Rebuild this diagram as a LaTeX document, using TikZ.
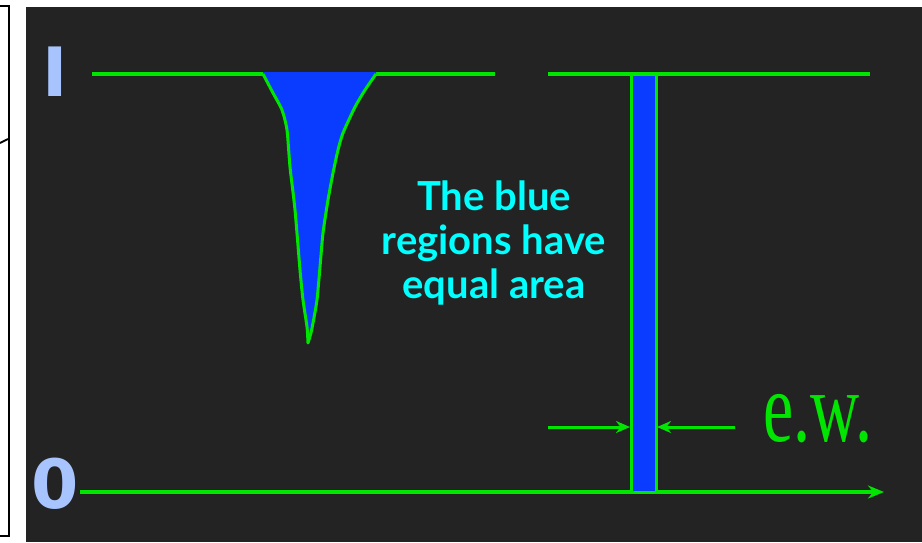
\documentclass[tikz,border=0pt]{standalone}
\usepackage{fontspec}
\setmainfont{Liberation Serif}
\newfontfamily\labelfont{Lato}
\newfontfamily\levelfont{DejaVu Sans}
\usetikzlibrary{arrows.meta}

\definecolor{panelbg}{HTML}{232323}
\definecolor{linegreen}{HTML}{00E600}
\definecolor{fillblue}{HTML}{0A3CFF}
\definecolor{textcyan}{HTML}{00FFFF}
\definecolor{labelblue}{HTML}{A8C4FF}

\begin{document}
\begin{tikzpicture}[
    x=1pt,
    y=-1pt,
    spectrum/.style={linegreen, line width=3.5pt},
    profile/.style={linegreen, line width=3pt, line join=round},
    absorbed/.style={fill=fillblue},
    levellabel/.style={labelblue, font=\levelfont\bfseries\fontsize{68}{68}\selectfont, inner sep=0pt},
    note/.style={textcyan, font=\labelfont\bfseries\fontsize{40}{44}\selectfont, align=center},
    ewlabel/.style={linegreen, font=\fontsize{100}{100}\selectfont, inner sep=0pt}
]

% =========================================================
% PARAMETRI
% =========================================================

\def\ytop{74}
\def\ybot{492}
\def\yew{427}

% Bordi della barra
\def\xbarL{631}
\def\xbarR{656}

\useasboundingbox (0,0) rectangle (922,542);

% =========================================================
% SFONDO
% =========================================================

\fill[white] (0,0) rectangle (922,542);
\fill[panelbg] (26,7) rectangle (922,542);

% cornice a sinistra
\draw[black, line width=2pt] (0,6) -- (9,6) -- (9,536) -- (0,536);
\draw[black, line width=2pt] (0,143) -- (8,139);

% =========================================================
% CONTINUO
% =========================================================

\draw[spectrum] (92,\ytop) -- (495,\ytop);
\draw[spectrum] (548,\ytop) -- (870,\ytop);

\node[levellabel] (one) at (55,72) {I};
\node[levellabel] (zero) at (55,484) {0};

% Asse orizzontale
\coordinate (axisstart) at (80,\ybot);
\coordinate (axisend) at (884,\ybot);
\draw[spectrum, -{Stealth[length=16pt, width=13pt]}] (axisstart) -- (axisend);

% =========================================================
% RIGA DI ASSORBIMENTO
% =========================================================

\def\leftedge{(263,74) (273,93) (282,110) (287,130) (290,167)
  (295,210) (300,270) (303,300) (307,327) (308,343)}
\def\rightedge{(311,333) (313,323) (317,300) (320,267) (323,233)
  (328,200) (333,173) (338,150) (343,133) (355,107) (365,90) (376,74)}

\fill[absorbed]
(263,72) -- plot[smooth, tension=0.4] coordinates \leftedge
-- plot[smooth, tension=0.4] coordinates \rightedge
-- (376,72) -- cycle;

\draw[profile]
plot[smooth, tension=0.4] coordinates \leftedge
-- plot[smooth, tension=0.4] coordinates \rightedge;

% =========================================================
% LARGHEZZA EQUIVALENTE
% =========================================================

\filldraw[absorbed, draw=linegreen, line width=3pt]
(\xbarL,\ytop) rectangle (\xbarR,\ybot);

% frecce
\coordinate (ewleft) at (548,\yew);
\coordinate (ewright) at (735,\yew);
\coordinate (barleft) at (\xbarL-1,\yew);
\coordinate (barright) at (\xbarR+1,\yew);

\draw[spectrum, line width=3pt, -{Stealth[length=14pt, width=12pt]}] (ewleft) -- (barleft);
\draw[spectrum, line width=3pt, -{Stealth[length=14pt, width=12pt]}] (ewright) -- (barright);

\node[ewlabel, anchor=base west] (ew) at (763,441) {\scalebox{0.68}[1]{e.w.}};

% =========================================================
% TESTO
% =========================================================

\node[note] (caption) at (494,243) {The blue\\regions have\\equal area};

\end{tikzpicture}
\end{document}
